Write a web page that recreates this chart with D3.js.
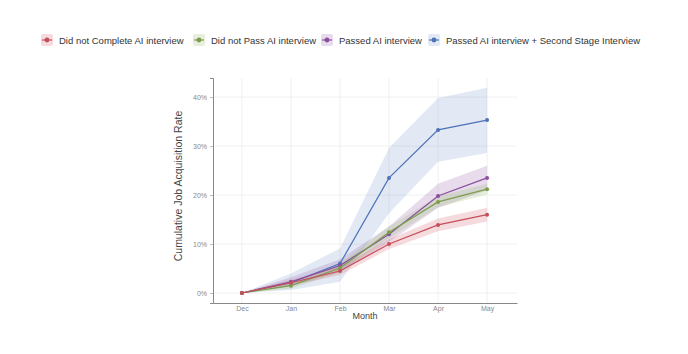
<!DOCTYPE html>
<html>
<head>
<meta charset="utf-8">
<script src="https://d3js.org/d3.v7.min.js"></script>
<style>
  body { margin: 0; background: #fff; }
  svg { display: block; font-family: "Liberation Sans", Arial, sans-serif; }
</style>
</head>
<body>
<svg id="chart" width="688" height="354"></svg>
<script>
const months = ['Dec', 'Jan', 'Feb', 'Mar', 'Apr', 'May'];
const seriesNames = [
  'Did not Complete AI interview',
  'Did not Pass AI interview',
  'Passed AI interview',
  'Passed AI interview + Second Stage Interview'
];
const seriesColors = ['#c44e5a', '#7e9c4e', '#8a4f9e', '#4c72b8'];
const bandColors = ['rgba(220,110,125,0.25)', 'rgba(150,190,110,0.25)', 'rgba(160,110,180,0.25)', 'rgba(110,145,200,0.2)'];

// values in percent
const notComplete = [0, 2.1, 4.5, 10.0, 13.9, 16.0];
const notCompleteLo = [0, 1.5, 3.7, 9.0, 12.6, 14.6];
const notCompleteHi = [0, 2.7, 5.3, 11.0, 15.2, 17.4];
const notPass = [0, 1.5, 5.1, 12.4, 18.6, 21.2];
const notPassLo = [0, 0.9, 4.2, 11.2, 17.5, 20.1];
const notPassHi = [0, 2.1, 6.0, 13.6, 19.7, 22.3];
const passed = [0, 2.3, 5.6, 12.0, 19.8, 23.5];
const passedLo = [0, 1.4, 4.3, 10.4, 17.4, 21.0];
const passedHi = [0, 3.2, 6.9, 13.6, 22.3, 26.0];
const passedSecond = [0, 2.1, 6.0, 23.5, 33.3, 35.3];
const passedSecondLo = [0, 0.6, 2.3, 16.3, 26.8, 28.6];
const passedSecondHi = [0, 4.0, 9.1, 29.6, 39.8, 41.9];
const yTicks = [0, 10, 20, 30, 40];

const series = [
  { mid: notComplete, lo: notCompleteLo, hi: notCompleteHi },
  { mid: notPass, lo: notPassLo, hi: notPassHi },
  { mid: passed, lo: passedLo, hi: passedHi },
  { mid: passedSecond, lo: passedSecondLo, hi: passedSecondHi }
];

const svg = d3.select('#chart');
const plotL = 213, plotR = 517, plotT = 78, plotB = 303;

const x = d3.scaleLinear().domain([-0.59, months.length - 1 + 0.61]).range([plotL, plotR]);
const y = d3.scaleLinear().domain([-2.04, 43.9]).range([plotB, plotT]);

// grid
svg.append('g').selectAll('line')
  .data(months.map((m, i) => i))
  .join('line')
    .attr('x1', d => x(d)).attr('x2', d => x(d))
    .attr('y1', plotT).attr('y2', plotB)
    .attr('stroke', '#ececec').attr('stroke-width', 0.8);
svg.append('g').selectAll('line')
  .data(yTicks)
  .join('line')
    .attr('x1', plotL).attr('x2', plotR)
    .attr('y1', d => y(d)).attr('y2', d => y(d))
    .attr('stroke', '#ececec').attr('stroke-width', 0.8);

// bands (blue first so it sits underneath)
const area = d3.area().x((d, i) => x(i)).y0(d => y(d[0])).y1(d => y(d[1]));
[3, 2, 1, 0].forEach(k => {
  const s = series[k];
  svg.append('path')
    .datum(s.lo.map((v, i) => [v, s.hi[i]]))
    .attr('d', area)
    .attr('fill', bandColors[k]);
});

// lines + points
const line = d3.line().x((d, i) => x(i)).y(d => y(d));
[3, 2, 1, 0].forEach(k => {
  const s = series[k];
  svg.append('path')
    .datum(s.mid)
    .attr('d', line)
    .attr('fill', 'none')
    .attr('stroke', seriesColors[k])
    .attr('stroke-width', 1.2);
  svg.append('g').selectAll('circle')
    .data(s.mid)
    .join('circle')
      .attr('cx', (d, i) => x(i))
      .attr('cy', d => y(d))
      .attr('r', 2)
      .attr('fill', seriesColors[k]);
});

// axes
const xAxis = d3.axisBottom(x).tickValues(months.map((m, i) => i))
  .tickFormat(i => months[i]).tickSize(0).tickPadding(3);
const gx = svg.append('g').attr('transform', `translate(0,${plotB})`).call(xAxis);
const yAxis = d3.axisLeft(y).tickValues(yTicks).tickFormat(d => d + '%').tickSize(3).tickPadding(3);
const gy = svg.append('g').attr('transform', `translate(${plotL},0)`).call(yAxis);
[gx, gy].forEach(g => {
  g.select('.domain').attr('stroke', '#888').attr('stroke-width', 1);
  g.selectAll('.tick line').attr('stroke', '#bbb');
  g.selectAll('.tick text').attr('fill', '#888').attr('font-size', 7)
    .attr('font-family', '"Liberation Sans", Arial, sans-serif');
});

svg.append('text')
  .attr('x', (plotL + plotR) / 2).attr('y', 319)
  .attr('text-anchor', 'middle').attr('font-size', 9).attr('fill', '#444')
  .text('Month');
svg.append('text')
  .attr('transform', 'translate(182,186) rotate(-90)')
  .attr('text-anchor', 'middle').attr('font-size', 10.5).attr('fill', '#444')
  .text('Cumulative Job Acquisition Rate');

// legend
const legendX = [47, 199, 327, 434];
const lg = svg.append('g');
seriesNames.forEach((name, k) => {
  const g = lg.append('g').attr('transform', `translate(${legendX[k]},40)`);
  g.append('rect').attr('x', -6).attr('y', -6).attr('width', 12).attr('height', 12)
    .attr('rx', 2).attr('fill', bandColors[k]);
  g.append('line').attr('x1', -5).attr('x2', 5).attr('y1', 0).attr('y2', 0)
    .attr('stroke', seriesColors[k]).attr('stroke-width', 1.2);
  g.append('circle').attr('r', 2.4).attr('fill', seriesColors[k]);
  g.append('text').attr('x', 12).attr('y', 3.5).attr('font-size', 9.5).attr('fill', '#333')
    .text(name);
});
</script>
</body>
</html>
